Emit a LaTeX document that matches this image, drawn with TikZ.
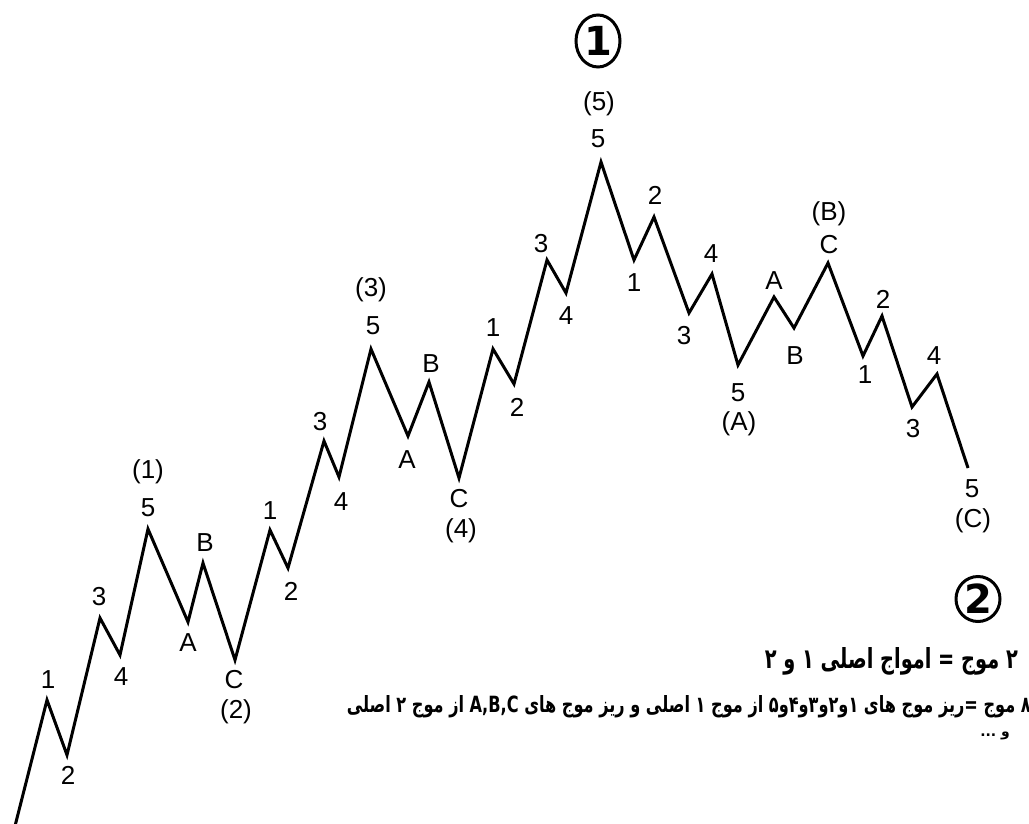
\documentclass[tikz,border=0pt]{standalone}
\usepackage{fontspec}
\usetikzlibrary{shapes.geometric}
\setmainfont{Liberation Sans}
\newfontfamily\arabicfont[Script=Arabic]{DejaVu Sans}
\newfontfamily\circfont{DejaVu Sans}
\TeXXeTstate=1
\tikzset{
  lbl/.style={font=\fontsize{26}{26}\selectfont, inner sep=0pt, anchor=center},
  wave/.style={line width=3pt, miter limit=10, line join=miter},
  circnum/.style={draw, ellipse, line width=3pt, inner sep=0pt, font=\circfont\bfseries\fontsize{40}{40}\selectfont},
  ptxt/.style={inner sep=0pt, anchor=east}
}
\begin{document}
\begin{tikzpicture}[x=1pt,y=-1pt]
\useasboundingbox[fill=white] (0,0) rectangle (1029,824);
% vertices
\coordinate (p0) at (15,826);
\coordinate (p1) at (47,700);
\coordinate (p2) at (67,755);
\coordinate (p3) at (100,618);
\coordinate (p4) at (120,655);
\coordinate (p5) at (148,529);
\coordinate (p6) at (188,622);
\coordinate (p7) at (203,563);
\coordinate (p8) at (235,660);
\coordinate (p9) at (270,530);
\coordinate (p10) at (288,568);
\coordinate (p11) at (324,441);
\coordinate (p12) at (339,477);
\coordinate (p13) at (371,349);
\coordinate (p14) at (408,436);
\coordinate (p15) at (429,382);
\coordinate (p16) at (459,478);
\coordinate (p17) at (493,349);
\coordinate (p18) at (514,384);
\coordinate (p19) at (547,260);
\coordinate (p20) at (566,293);
\coordinate (p21) at (601,162);
\coordinate (p22) at (634,260);
\coordinate (p23) at (654,217);
\coordinate (p24) at (689,313);
\coordinate (p25) at (712,274);
\coordinate (p26) at (738,365);
\coordinate (p27) at (774,297);
\coordinate (p28) at (794,328);
\coordinate (p29) at (828,263);
\coordinate (p30) at (863,356);
\coordinate (p31) at (882,316);
\coordinate (p32) at (912,407);
\coordinate (p33) at (937,374);
\coordinate (p34) at (968,468);
\draw[wave] (p0) -- (p1) -- (p2) -- (p3) -- (p4) -- (p5) -- (p6) -- (p7) -- (p8)
  -- (p9) -- (p10) -- (p11) -- (p12) -- (p13) -- (p14) -- (p15) -- (p16)
  -- (p17) -- (p18) -- (p19) -- (p20) -- (p21) -- (p22) -- (p23) -- (p24)
  -- (p25) -- (p26) -- (p27) -- (p28) -- (p29) -- (p30) -- (p31) -- (p32)
  -- (p33) -- (p34);
% labels
\node[lbl] (l1) at (48,680) {1};
\node[lbl] (l2) at (68,775) {2};
\node[lbl] (l3) at (99,597) {3};
\node[lbl] (l4) at (121,677) {4};
\node[lbl] (l5a) at (148,472) {(1)};
\node[lbl] (l5) at (148,508) {5};
\node[lbl] (lA1) at (188,643) {A};
\node[lbl] (lB1) at (205,543) {B};
\node[lbl] (lC1) at (234,680) {C};
\node[lbl] (lC1a) at (236,712) {(2)};
\node[lbl] (m1) at (270,511) {1};
\node[lbl] (m2) at (291,591) {2};
\node[lbl] (m3) at (320,422) {3};
\node[lbl] (m4) at (341,502) {4};
\node[lbl] (m5a) at (371,290) {(3)};
\node[lbl] (m5) at (373,326) {5};
\node[lbl] (mA) at (407,460) {A};
\node[lbl] (mB) at (431,364) {B};
\node[lbl] (mC) at (459,499) {C};
\node[lbl] (mCa) at (461,531) {(4)};
\node[lbl] (n1) at (493,328) {1};
\node[lbl] (n2) at (517,407) {2};
\node[lbl] (n3) at (541,244) {3};
\node[lbl] (n4) at (566,316) {4};
\node[lbl] (n5a) at (599,104) {(5)};
\node[lbl] (n5) at (598,139) {5};
\node[lbl] (q1) at (634,283) {1};
\node[lbl] (q2) at (655,195) {2};
\node[lbl] (q3) at (684,336) {3};
\node[lbl] (q4) at (711,254) {4};
\node[lbl] (q5) at (738,393) {5};
\node[lbl] (q5a) at (739,424) {(A)};
\node[lbl] (qA) at (774,281) {A};
\node[lbl] (qB) at (795,356) {B};
\node[lbl] (qC) at (829,245) {C};
\node[lbl] (qCa) at (829,214) {(B)};
\node[lbl] (r1) at (865,375) {1};
\node[lbl] (r2) at (883,299) {2};
\node[lbl] (r3) at (913,429) {3};
\node[lbl] (r4) at (934,356) {4};
\node[lbl] (r5) at (972,489) {5};
\node[lbl] (r5a) at (973,521) {(C)};
% circled numbers
\node[circnum, minimum width=44pt, minimum height=52pt] (c1) at (598,41) {1};
\node[circnum, minimum width=44pt, minimum height=45pt] (c2) at (978,599) {2};
% Persian text
\node[ptxt] (t1) at (1018,661) {\resizebox{253pt}{21pt}{\arabicfont\bfseries\beginR ۲ موج = امواج اصلی ۱ و ۲\endR}};
\node[ptxt] (t2) at (1031,707) {\resizebox{684pt}{17pt}{\arabicfont\bfseries\beginR ۸ موج =ریز موج های ۱و۲و۳و۴و۵ از موج ۱ اصلی و ریز موج های \beginL A,B,C\endL{} از موج ۲ اصلی\endR}};
\node[ptxt] (t3) at (1010,736) {\arabicfont\bfseries\fontsize{14}{14}\selectfont\beginR و ...\endR};
\end{tikzpicture}
\end{document}
